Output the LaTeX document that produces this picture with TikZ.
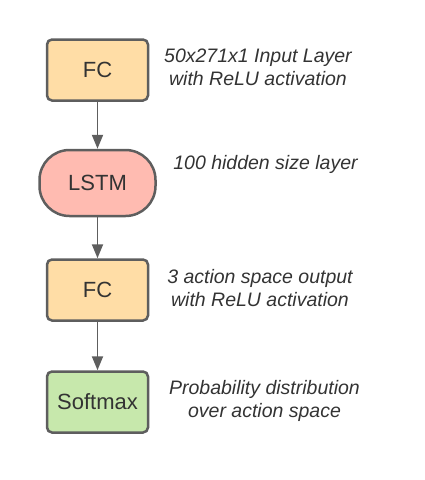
\documentclass[tikz,border=0pt]{standalone}
\usepackage{fontspec}
\setmainfont{Liberation Sans}
\usetikzlibrary{arrows.meta}
\definecolor{fcfill}{HTML}{FFDDA6}
\definecolor{lstmfill}{HTML}{FFBBB1}
\definecolor{smfill}{HTML}{C7E8AC}
\definecolor{edgegray}{HTML}{5E5E5E}
\definecolor{txtgray}{HTML}{333333}

\begin{document}
\begin{tikzpicture}[x=1pt,y=-1pt,
  layerbox/.style={draw=edgegray,line width=2.5pt,rounded corners=5pt,
    minimum width=101pt,minimum height=61pt,text=txtgray,
    font=\fontsize{22}{26}\selectfont},
  note/.style={text=txtgray,align=center,font=\fontsize{19.5}{23}\selectfont\itshape},
  flow/.style={draw=edgegray,line width=1.9pt,-{Triangle[length=14pt,width=11pt]}}]
  \useasboundingbox (0,0) rectangle (425,480);
  % layers
  \node[layerbox,fill=fcfill] (fcin) at (97.5,70) {FC};
  \node[layerbox,fill=lstmfill,minimum width=116pt,minimum height=66pt,
    rounded corners=30pt] (lstm) at (97.5,183) {LSTM};
  \node[layerbox,fill=fcfill] (fcout) at (97.5,290) {FC};
  \node[layerbox,fill=smfill] (soft) at (97.5,402) {Softmax};
  % arrows
  \draw[flow] (fcin) -- (lstm);
  \draw[flow] (lstm) -- (fcout);
  \draw[flow] (fcout) -- (soft);
  % notes
  \node[note] (fcinnote) at (258,67) {50x271x1 Input Layer\\with ReLU activation};
  \node[note] (lstmnote) at (265.5,164) {100 hidden size layer};
  \node[note] (fcoutnote) at (260,288) {3 action space output\\with ReLU activation};
  \node[note] (softnote) at (264.5,401) {Probability distribution\\over action space};
\end{tikzpicture}
\end{document}
